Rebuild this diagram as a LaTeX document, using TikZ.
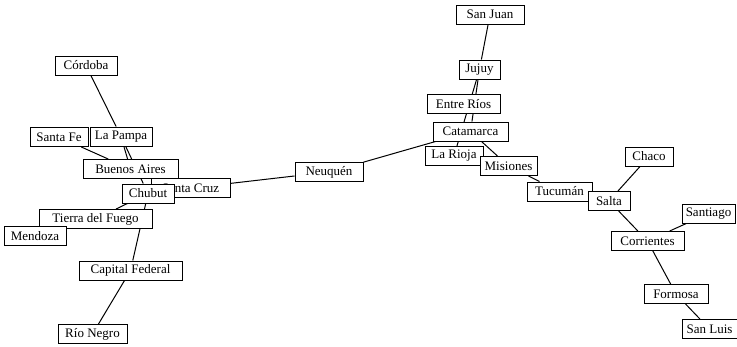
\documentclass[tikz,border=0pt]{standalone}
\usepackage{fontspec}
\setmainfont{Liberation Serif}
\usetikzlibrary{backgrounds}

\tikzset{
    prov/.style={draw, line width=1pt, fill=white, font=\fontsize{13}{15}\selectfont,
        inner xsep=2pt, inner ysep=0pt, minimum height=19pt},
    link/.style={line width=1pt}
}

\begin{document}
\begin{tikzpicture}[x=1pt, y=-1pt]
            \useasboundingbox (0,0) rectangle (737,346);

            % West cluster
            \node[prov, minimum width=62pt] (cordoba) at (86,65.5) {Córdoba};
            \node[prov, minimum width=58pt] (santafe) at (59,137) {Santa Fe};
            \node[prov, minimum width=62pt] (lapampa) at (121,136.5) {La Pampa};
            \node[prov, minimum width=95pt] (bsas) at (130.5,169) {Buenos Aires};
            \node[prov, minimum width=79pt] (santacruz) at (190.5,188) {Santa Cruz};
            \node[prov, minimum width=52pt] (chubut) at (148,193.5) {Chubut};
            \node[prov, minimum width=113pt] (tierra) at (95.5,219) {Tierra del Fuego};
            \node[prov, minimum width=62pt] (mendoza) at (35,236) {Mendoza};
            \node[prov, minimum width=103pt] (capital) at (130.5,270.5) {Capital Federal};
            \node[prov, minimum width=69pt] (rionegro) at (92.5,334) {Río Negro};

            % Middle
            \node[prov, minimum width=68pt] (neuquen) at (329,172) {Neuquén};

            % North cluster
            \node[prov, minimum width=68pt] (sanjuan) at (490,14.5) {San Juan};
            \node[prov, minimum width=41pt] (jujuy) at (479.5,69.5) {Jujuy};
            \node[prov, minimum width=73pt] (entrerios) at (463.5,104) {Entre Ríos};
            \node[prov, minimum width=75pt] (catamarca) at (470.5,131.5) {Catamarca};
            \node[prov, minimum width=58pt] (larioja) at (454,156) {La Rioja};
            \node[prov, minimum width=57pt] (misiones) at (508.5,166) {Misiones};

            % East cluster
            \node[prov, minimum width=65pt] (tucuman) at (559.5,191.5) {Tucumán};
            \node[prov, minimum width=42pt] (salta) at (609,201) {Salta};
            \node[prov, minimum width=48pt] (chaco) at (649,156.5) {Chaco};
            \node[prov, minimum width=53pt] (santiago) at (708.5,213.5) {Santiago};
            \node[prov, minimum width=73pt] (corrientes) at (647.5,241) {Corrientes};
            \node[prov, minimum width=64pt] (formosa) at (676,294) {Formosa};
            \node[prov, minimum width=55pt] (sanluis) at (709.5,329) {San Luis};

            % Links behind the boxes
            \begin{scope}[on background layer]
                \draw[link] (cordoba) -- (lapampa);
                \draw[link] (lapampa) -- (bsas);
                \draw[link] (lapampa) -- (chubut);
                \draw[link] (santafe) -- (bsas);
                \draw[link] (chubut) -- (tierra);
                \draw[link] (chubut) -- (capital);
                \draw[link] (capital) -- (rionegro);
                \draw[link] (santacruz) -- (neuquen);
                \draw[link] (neuquen) -- (catamarca);
                \draw[link] (sanjuan) -- (jujuy);
                \draw[link] (jujuy) -- (catamarca);
                \draw[link] (jujuy) -- (larioja);
                \draw[link] (catamarca) -- (misiones);
                \draw[link] (misiones) -- (tucuman);
                \draw[link] (salta) -- (chaco);
                \draw[link] (salta) -- (corrientes);
                \draw[link] (corrientes) -- (santiago);
                \draw[link] (corrientes) -- (formosa);
                \draw[link] (formosa) -- (sanluis);
            \end{scope}

        \end{tikzpicture}
\end{document}
